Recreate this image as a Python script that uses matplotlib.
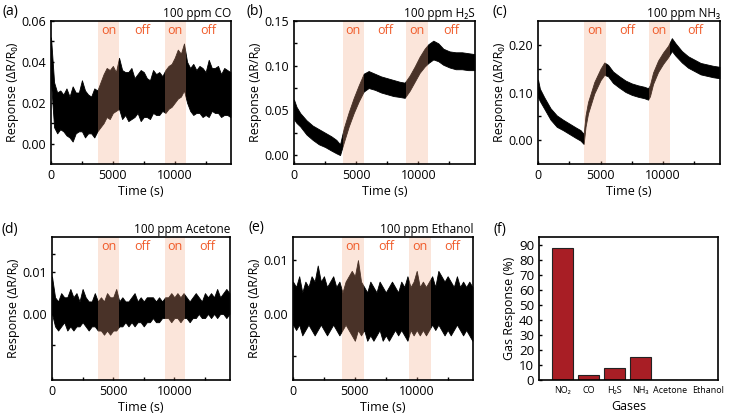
import numpy as np
import matplotlib
matplotlib.use('Agg')
import matplotlib.pyplot as plt
import matplotlib.transforms as mtransforms
from matplotlib.ticker import MultipleLocator, FixedLocator

plt.rcParams['font.family'] = ['Open Sans', 'DejaVu Sans']
plt.rcParams['axes.linewidth'] = 1.2

# ---- data (band envelopes of the noisy traces) ----
t_fine = [0, 250, 500, 750, 1000, 1250, 1500, 1750, 2000, 2250,
          2500, 2750, 3000, 3250, 3500, 3750, 4000, 4250, 4500, 4750,
          5000, 5250, 5500, 5750, 6000, 6250, 6500, 6750, 7000, 7250,
          7500, 7750, 8000, 8250, 8500, 8750, 9000, 9250, 9500, 9750,
          10000, 10250, 10500, 10750, 11000, 11250, 11500, 11750, 12000, 12250,
          12500, 12750, 13000, 13250, 13500, 13750, 14000, 14250, 14500]

co_hi = [0.052, 0.030, 0.025, 0.026, 0.024, 0.027, 0.023, 0.028, 0.025, 0.025,
         0.031, 0.026, 0.024, 0.023, 0.027, 0.026, 0.030, 0.034, 0.037, 0.036,
         0.038, 0.035, 0.042, 0.036, 0.035, 0.035, 0.037, 0.032, 0.034, 0.036,
         0.035, 0.032, 0.031, 0.036, 0.034, 0.035, 0.033, 0.036, 0.038, 0.039,
         0.042, 0.046, 0.044, 0.049, 0.040, 0.037, 0.039, 0.036, 0.038, 0.037,
         0.035, 0.041, 0.037, 0.037, 0.038, 0.034, 0.037, 0.036, 0.035]
co_lo = [0.030, 0.008, 0.005, 0.007, 0.006, 0.004, 0.003, 0.001, 0.005, 0.006,
         0.006, 0.003, 0.005, 0.005, 0.003, 0.006, 0.008, 0.010, 0.013, 0.012,
         0.015, 0.016, 0.017, 0.012, 0.014, 0.011, 0.012, 0.013, 0.015, 0.011,
         0.013, 0.013, 0.012, 0.015, 0.014, 0.014, 0.016, 0.015, 0.017, 0.018,
         0.020, 0.022, 0.023, 0.026, 0.020, 0.016, 0.014, 0.015, 0.015, 0.013,
         0.014, 0.013, 0.016, 0.015, 0.015, 0.013, 0.014, 0.014, 0.013]

h2s_t = [0, 200, 500, 1000, 1500, 2000, 2500, 3000, 3400, 3700,
         4000, 4400, 4800, 5200, 5600, 6000, 6500, 7000, 7500, 8000,
         8500, 8900, 9300, 9700, 10100, 10500, 10800, 11200, 11600, 12000,
         12500, 13000, 13500, 14000, 14500]
h2s_hi = [0.062, 0.054, 0.047, 0.039, 0.033, 0.029, 0.025, 0.021, 0.017, 0.012,
          0.030, 0.048, 0.064, 0.078, 0.091, 0.094, 0.091, 0.088, 0.086, 0.084,
          0.082, 0.081, 0.089, 0.099, 0.110, 0.119, 0.124, 0.128, 0.125, 0.119,
          0.116, 0.115, 0.115, 0.114, 0.113]
h2s_lo = [0.040, 0.036, 0.032, 0.023, 0.017, 0.012, 0.009, 0.005, 0.002, 0.000,
          0.014, 0.032, 0.047, 0.060, 0.071, 0.075, 0.073, 0.070, 0.068, 0.066,
          0.065, 0.064, 0.072, 0.082, 0.092, 0.099, 0.103, 0.107, 0.105, 0.101,
          0.098, 0.096, 0.096, 0.095, 0.095]

nh3_t = [0, 150, 500, 1000, 1500, 2000, 2500, 3000, 3400, 3650,
         3800, 4000, 4500, 5000, 5300, 5600, 6000, 6500, 7000, 7500,
         8000, 8500, 8800, 8950, 9200, 9600, 10000, 10400, 10700, 11000,
         11500, 12000, 12500, 13000, 13500, 14000, 14500]
nh3_hi = [0.127, 0.108, 0.090, 0.067, 0.052, 0.043, 0.035, 0.027, 0.021, 0.013,
          0.052, 0.080, 0.122, 0.150, 0.163, 0.158, 0.144, 0.134, 0.125, 0.119,
          0.115, 0.112, 0.109, 0.116, 0.142, 0.167, 0.184, 0.198, 0.214, 0.203,
          0.187, 0.176, 0.169, 0.162, 0.159, 0.156, 0.154]
nh3_lo = [0.090, 0.082, 0.066, 0.043, 0.028, 0.021, 0.013, 0.005, -0.001, -0.008,
          0.028, 0.056, 0.098, 0.126, 0.137, 0.134, 0.120, 0.110, 0.101, 0.095,
          0.091, 0.088, 0.085, 0.092, 0.118, 0.143, 0.160, 0.174, 0.187, 0.177,
          0.163, 0.152, 0.145, 0.138, 0.135, 0.132, 0.130]

ace_hi = [0.009, 0.004, 0.003, 0.005, 0.004, 0.004, 0.006, 0.004, 0.005, 0.003,
          0.006, 0.004, 0.003, 0.003, 0.005, 0.003, 0.004, 0.003, 0.005, 0.004,
          0.004, 0.006, 0.003, 0.004, 0.003, 0.003, 0.004, 0.005, 0.003, 0.004,
          0.003, 0.004, 0.004, 0.004, 0.003, 0.004, 0.003, 0.004, 0.004, 0.005,
          0.004, 0.005, 0.004, 0.005, 0.004, 0.003, 0.004, 0.005, 0.004, 0.003,
          0.005, 0.004, 0.005, 0.004, 0.006, 0.004, 0.005, 0.006, 0.005]
ace_lo = [0.000, -0.003, -0.004, -0.003, -0.002, -0.004, -0.003, -0.004, -0.003, -0.003,
          -0.002, -0.003, -0.004, -0.003, -0.003, -0.004, -0.004, -0.005, -0.004, -0.005,
          -0.004, -0.004, -0.003, -0.003, -0.002, -0.003, -0.002, -0.003, -0.002, -0.002,
          -0.003, -0.002, -0.002, -0.001, -0.002, -0.002, -0.001, -0.001, -0.001, -0.002,
          -0.001, -0.001, -0.002, -0.001, -0.001, -0.002, -0.001, -0.001, 0.000, -0.001,
          -0.001, 0.000, -0.001, 0.000, -0.001, 0.000, 0.000, -0.001, 0.000]

eth_hi = [0.006, 0.005, 0.007, 0.004, 0.006, 0.005, 0.007, 0.006, 0.009, 0.006,
          0.007, 0.005, 0.006, 0.007, 0.005, 0.006, 0.004, 0.006, 0.007, 0.008,
          0.007, 0.010, 0.006, 0.005, 0.004, 0.006, 0.005, 0.004, 0.006, 0.005,
          0.004, 0.005, 0.006, 0.005, 0.004, 0.006, 0.005, 0.007, 0.005, 0.006,
          0.008, 0.005, 0.006, 0.005, 0.006, 0.007, 0.005, 0.008, 0.007, 0.006,
          0.007, 0.006, 0.005, 0.007, 0.005, 0.006, 0.005, 0.006, 0.005]
eth_lo = [-0.002, -0.003, -0.002, -0.004, -0.003, -0.002, -0.003, -0.004, -0.003, -0.002,
          -0.003, -0.004, -0.003, -0.002, -0.003, -0.004, -0.003, -0.002, -0.003, -0.004,
          -0.005, -0.003, -0.004, -0.003, -0.005, -0.004, -0.005, -0.004, -0.003, -0.005,
          -0.004, -0.005, -0.004, -0.003, -0.004, -0.003, -0.004, -0.005, -0.003, -0.004,
          -0.003, -0.004, -0.003, -0.004, -0.003, -0.002, -0.003, -0.002, -0.003, -0.004,
          -0.003, -0.004, -0.003, -0.002, -0.003, -0.004, -0.003, -0.004, -0.005]

# gas on periods (s)
co_on = [(3800, 5500), (9200, 10900)]
h2s_on = [(3900, 5600), (9000, 10800)]
nh3_on = [(3700, 5450), (8850, 10550)]
ace_on = [(3800, 5500), (9200, 10900)]
eth_on = [(3950, 5700), (9400, 11150)]

gases = ['NO₂', 'CO', 'H₂S', 'NH₃', 'Acetone', 'Ethanol']
gas_response = [88, 3, 8, 15, 0, 0]

TMAX = 14550
W, H = 735, 418
FS = 9


def box(l, t, r, b):
    return [l / W, 1 - b / H, (r - l) / W, (b - t) / H]


def response_panel(ax, t, lo, hi, spans, gas, ylim, yticks, ylabels, minor=None):
    ax.fill_between(t, lo, hi, color='black', lw=0.6, zorder=1)
    for s0, s1 in spans:
        ax.axvspan(s0, s1, color='#f4a985', alpha=0.3, lw=0, zorder=2)
    # on/off labels
    starts = [s[0] for s in spans[1:]] + [TMAX]
    trans = ax.get_xaxis_transform()
    for (s0, s1), nxt in zip(spans, starts):
        ax.text((s0 + s1) / 2, 0.935, 'on', color='#f05a28', fontsize=9,
                ha='center', va='center', transform=trans)
        ax.text((s1 + nxt) / 2, 0.935, 'off', color='#f05a28', fontsize=9,
                ha='center', va='center', transform=trans)
    ax.set_xlim(0, TMAX)
    ax.set_ylim(*ylim)
    ax.set_xticks([0, 5000, 10000])
    ax.xaxis.set_minor_locator(MultipleLocator(2500))
    ax.set_yticks(yticks)
    ax.set_yticklabels(ylabels)
    if minor is not None:
        ax.yaxis.set_minor_locator(FixedLocator(minor))
    ax.tick_params(which='both', direction='in', length=2.5, width=1,
                   labelsize=FS, top=False, right=False)
    ax.set_xlabel('Time (s)', fontsize=FS, labelpad=2)
    ax.set_ylabel('Response (ΔR/R₀)', fontsize=FS, labelpad=2)
    ax.set_title(f'100 ppm {gas}', loc='right', fontsize=8.5, pad=3)


fig = plt.figure(figsize=(7.35, 4.18), dpi=100)

ax_a = fig.add_axes(box(51, 21, 231, 164))
response_panel(ax_a, t_fine, co_lo, co_hi, co_on, 'CO', (-0.01, 0.06),
               [0, 0.02, 0.04, 0.06], ['0.00', '0.02', '0.04', '0.06'],
               minor=[0.01, 0.03, 0.05])

ax_b = fig.add_axes(box(294, 21, 475, 164))
response_panel(ax_b, h2s_t, h2s_lo, h2s_hi, h2s_on, 'H₂S', (-0.01, 0.15),
               [0, 0.05, 0.10, 0.15], ['0.00', '0.05', '0.10', '0.15'],
               minor=[0.025, 0.075, 0.125])

ax_c = fig.add_axes(box(538, 21, 720, 164))
response_panel(ax_c, nh3_t, nh3_lo, nh3_hi, nh3_on, 'NH₃', (-0.05, 0.25),
               [0, 0.10, 0.20], ['0.00', '0.10', '0.20'],
               minor=[0.05, 0.15])

ax_d = fig.add_axes(box(52, 237, 230, 380))
response_panel(ax_d, t_fine, ace_lo, ace_hi, ace_on, 'Acetone', (-0.0159, 0.0185),
               [-0.0075, 0, 0.01, 0.0145], ['', '0.00', '0.01', ''])

ax_e = fig.add_axes(box(293, 237, 473, 380))
response_panel(ax_e, t_fine, eth_lo, eth_hi, eth_on, 'Ethanol', (-0.0123, 0.0143),
               [-0.0079, 0, 0.01], ['', '0.00', '0.01'])

ax_f = fig.add_axes(box(539, 237, 718, 380))
x = np.arange(len(gases))
ax_f.bar(x, gas_response, width=0.8, color='#a81e25', edgecolor='#222222', lw=0.8)
ax_f.set_xlim(-0.92, 5.98)
ax_f.set_ylim(0, 95)
ax_f.set_xticks(x)
ax_f.set_xticklabels(gases, fontsize=6.5)
ax_f.set_yticks(range(0, 91, 10))
ax_f.tick_params(axis='y', direction='in', length=2.5, width=1, labelsize=9.5)
ax_f.tick_params(axis='x', length=0, pad=4)
# the last two labels sit to the right of their bars, as in the reference
for lbl, dx in zip(ax_f.get_xticklabels()[-2:], [3, 15]):
    lbl.set_transform(lbl.get_transform() +
                      mtransforms.ScaledTranslation(dx / 100, 0, fig.dpi_scale_trans))
ax_f.set_xlabel('Gases', fontsize=FS, labelpad=4)
ax_f.set_ylabel('Gas Response (%)', fontsize=FS, labelpad=2)

# panel letters
for lab, px, py in [('(a)', 10, 12), ('(b)', 255, 12), ('(c)', 500, 12),
                    ('(d)', 10, 229), ('(e)', 256, 228), ('(f)', 500, 230)]:
    fig.text(px / W, 1 - py / H, lab, fontsize=10, ha='center', va='center')

fig.savefig('out.png', dpi=100)
